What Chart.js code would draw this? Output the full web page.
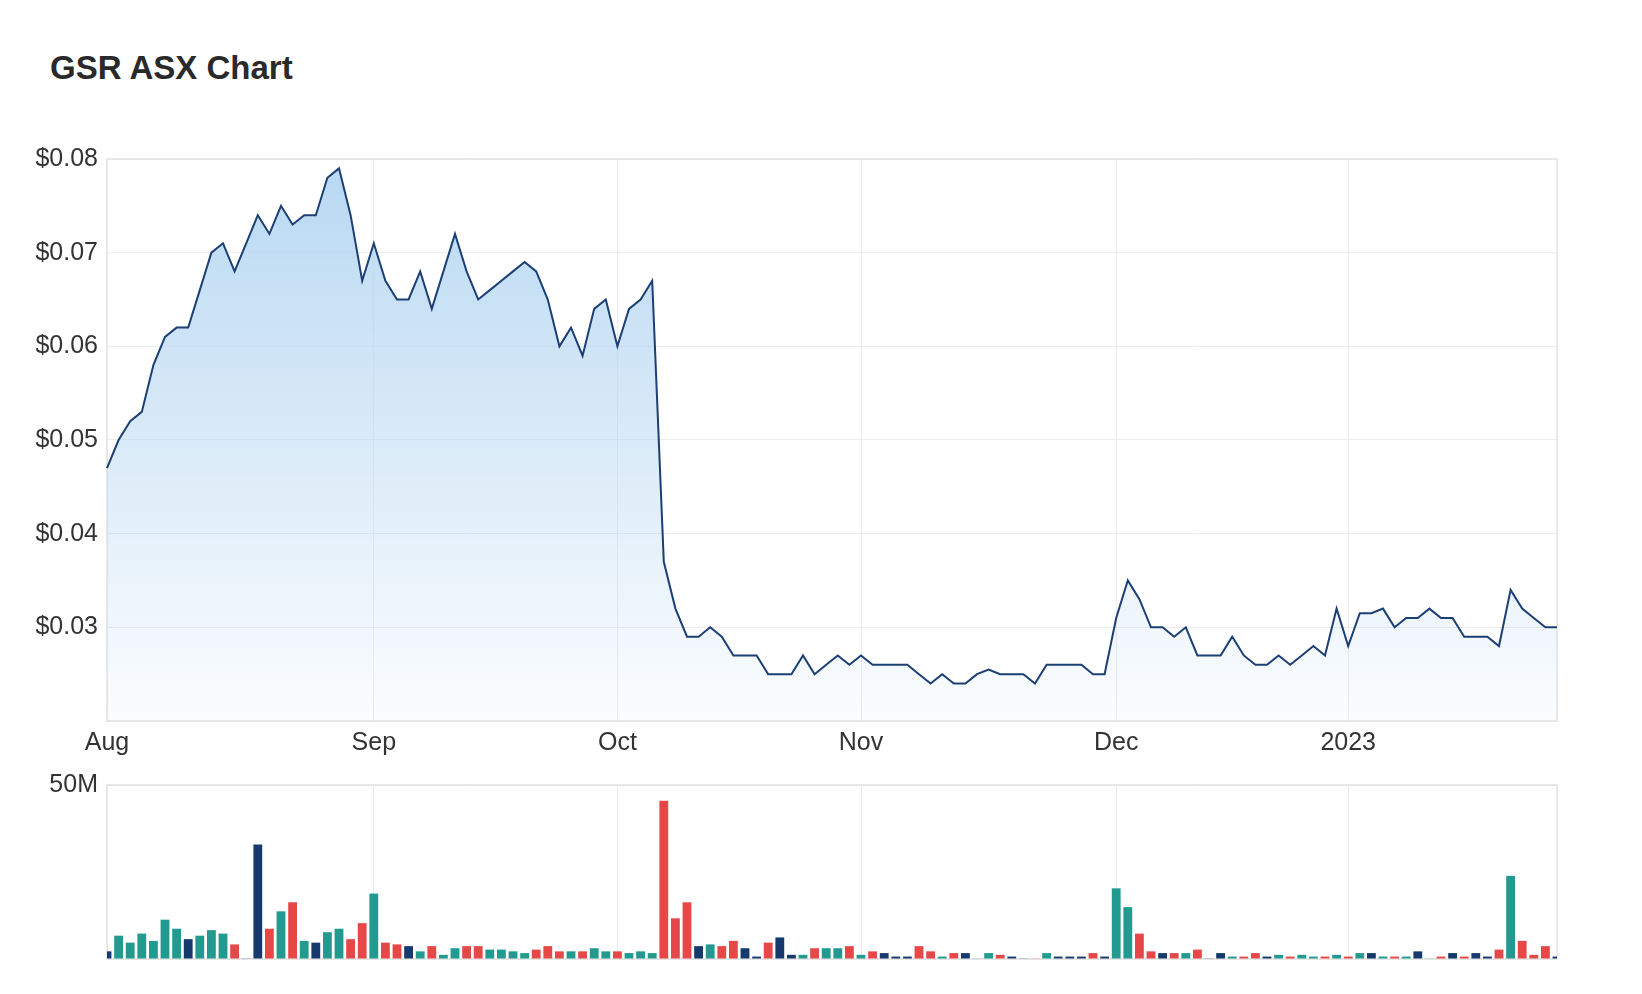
<!DOCTYPE html>
<html>
<head>
<meta charset="utf-8">
<script src="https://cdn.jsdelivr.net/npm/chart.js@4.4.1/dist/chart.umd.min.js"></script>
<style>
  html, body { margin:0; padding:0; background:#ffffff; width:1642px; height:994px; overflow:hidden; }
  #title { position:absolute; left:50px; top:51px; margin:0; font:bold 33px "Liberation Sans", Arial, sans-serif; line-height:1; color:#2a2a2a; }
  #pw { position:absolute; left:0; top:130px; width:1642px; height:631px; }
  #vw { position:absolute; left:0; top:761px; width:1642px; height:233px; }
</style>
</head>
<body>
<h1 id="title">GSR ASX Chart</h1>
<div id="pw"><canvas id="price"></canvas></div>
<div id="vw"><canvas id="vol"></canvas></div>
<script>
// ---------------- DATA ----------------
const tradingDays = [
  '2022-08-01','2022-08-02','2022-08-03','2022-08-04','2022-08-05','2022-08-08','2022-08-09','2022-08-10','2022-08-11','2022-08-12',
  '2022-08-15','2022-08-16','2022-08-17','2022-08-18','2022-08-19','2022-08-22','2022-08-23','2022-08-24','2022-08-25','2022-08-26',
  '2022-08-29','2022-08-30','2022-08-31',
  '2022-09-01','2022-09-02','2022-09-05','2022-09-06','2022-09-07','2022-09-08','2022-09-09','2022-09-12','2022-09-13','2022-09-14',
  '2022-09-15','2022-09-16','2022-09-19','2022-09-20','2022-09-21','2022-09-23','2022-09-26','2022-09-27','2022-09-28','2022-09-29',
  '2022-09-30',
  '2022-10-03','2022-10-04','2022-10-05','2022-10-06','2022-10-07','2022-10-10','2022-10-11','2022-10-12','2022-10-13','2022-10-14',
  '2022-10-17','2022-10-18','2022-10-19','2022-10-20','2022-10-21','2022-10-24','2022-10-25','2022-10-26','2022-10-27','2022-10-28',
  '2022-10-31',
  '2022-11-01','2022-11-02','2022-11-03','2022-11-04','2022-11-07','2022-11-08','2022-11-09','2022-11-10','2022-11-11','2022-11-14',
  '2022-11-15','2022-11-16','2022-11-17','2022-11-18','2022-11-21','2022-11-22','2022-11-23','2022-11-24','2022-11-25','2022-11-28',
  '2022-11-29','2022-11-30',
  '2022-12-01','2022-12-02','2022-12-05','2022-12-06','2022-12-07','2022-12-08','2022-12-09','2022-12-12','2022-12-13','2022-12-14',
  '2022-12-15','2022-12-16','2022-12-19','2022-12-20','2022-12-21','2022-12-22','2022-12-23','2022-12-28','2022-12-29','2022-12-30',
  '2023-01-03','2023-01-04','2023-01-05','2023-01-06','2023-01-09','2023-01-10','2023-01-11','2023-01-12','2023-01-13','2023-01-16',
  '2023-01-17','2023-01-18','2023-01-19','2023-01-20','2023-01-23','2023-01-24','2023-01-25','2023-01-27','2023-01-30'
];

const closePrice = [
  0.047, 0.050, 0.052, 0.053, 0.058, 0.061, 0.062, 0.062, 0.066, 0.070,
  0.071, 0.068, 0.071, 0.074, 0.072, 0.075, 0.073, 0.074, 0.074, 0.078,
  0.079, 0.074, 0.067, 0.071, 0.067, 0.065, 0.065, 0.068, 0.064, 0.068,
  0.072, 0.068, 0.065, 0.066, 0.067, 0.068, 0.069, 0.068, 0.065, 0.060,
  0.062, 0.059, 0.064, 0.065, 0.060, 0.064, 0.065, 0.067, 0.037, 0.032,
  0.029, 0.029, 0.030, 0.029, 0.027, 0.027, 0.027, 0.025, 0.025, 0.025,
  0.027, 0.025, 0.026, 0.027, 0.026, 0.027, 0.026, 0.026, 0.026, 0.026,
  0.025, 0.024, 0.025, 0.024, 0.024, 0.025, 0.0255, 0.025, 0.025, 0.025,
  0.024, 0.026, 0.026, 0.026, 0.026, 0.025, 0.025, 0.031, 0.035, 0.033,
  0.030, 0.030, 0.029, 0.030, 0.027, 0.027, 0.027, 0.029, 0.027, 0.026,
  0.026, 0.027, 0.026, 0.027, 0.028, 0.027, 0.032, 0.028, 0.0315, 0.0315,
  0.032, 0.030, 0.031, 0.031, 0.032, 0.031, 0.031, 0.029, 0.029, 0.029,
  0.028, 0.034, 0.032, 0.031, 0.030, 0.030
];

// volume in millions of shares
const volumeM = [
  2.2, 6.7, 4.7, 7.3, 5.2, 11.3, 8.7, 5.7, 6.7, 8.3,
  7.3, 4.2, 0.2, 32.9, 8.7, 13.7, 16.3, 5.2, 4.7, 7.7,
  8.7, 5.7, 10.3, 18.8, 4.7, 4.2, 3.7, 2.2, 3.7, 1.2,
  3.1, 3.7, 3.7, 2.7, 2.7, 2.2, 1.7, 2.7, 3.7, 2.2,
  2.2, 2.2, 3.1, 2.2, 2.2, 1.7, 2.2, 1.7, 45.5, 11.7,
  16.3, 3.7, 4.2, 3.7, 5.2, 3.1, 0.7, 4.7, 6.2, 1.2,
  1.2, 3.1, 3.1, 3.1, 3.7, 1.2, 2.2, 1.7, 0.7, 0.7,
  3.7, 2.2, 0.7, 1.7, 1.7, 0.2, 1.7, 1.2, 0.7, 0.2,
  0.2, 1.7, 0.7, 0.7, 0.7, 1.7, 0.7, 20.3, 14.9, 7.3,
  2.2, 1.7, 1.7, 1.7, 2.7, 0.2, 1.7, 0.7, 0.7, 1.7,
  0.7, 1.2, 0.7, 1.2, 0.7, 0.7, 1.2, 0.7, 1.7, 1.7,
  0.7, 0.7, 0.7, 2.2, 0.2, 0.7, 1.7, 0.7, 1.7, 0.7,
  2.7, 23.9, 5.2, 1.2, 3.7, 0.7
];

// u = up day, d = down day, n = unchanged
const volumeMove = (
  'nuuuuuunuu' + 'udnndudunu' + 'udduddnudu' + 'udduuuuddd' + 'uduuduuudd' +
  'dnuddnndnn' + 'uduududnnn' + 'ddudnuudnn' + 'dunnndnuud' + 'dndudnnudd' +
  'nuduududun' + 'udunudndnn' + 'dudddn'
).split('');

const monthNames = ['Jan','Feb','Mar','Apr','May','Jun','Jul','Aug','Sep','Oct','Nov','Dec'];
const priceTicks = [0.02, 0.03, 0.04, 0.05, 0.06, 0.07, 0.08];
const volumeMaxM = 50;

// ---------------- STYLE ----------------
const FONT = '"Liberation Sans", Arial, sans-serif';
const TICK_COLOR = '#333333';
const GRID = '#ececec';
const moveColor = { u: '#229a8f', d: '#e64848', n: '#173a6e' };

function isMonthStart(i) {
  if (typeof i !== 'number' || i < 0 || i >= tradingDays.length) return false;
  if (i === 0) return true;
  return tradingDays[i].slice(5, 7) !== tradingDays[i - 1].slice(5, 7);
}
function monthLabel(i) {
  if (!isMonthStart(i)) return '';
  const d = tradingDays[i];
  const m = parseInt(d.slice(5, 7), 10);
  return m === 1 ? d.slice(0, 4) : monthNames[m - 1];
}

const framePlugin = {
  id: 'frame',
  beforeDatasetsDraw(chart) {
    const { ctx, chartArea: a } = chart;
    ctx.save();
    ctx.strokeStyle = '#e2e2e2';
    ctx.lineWidth = 1.5;
    ctx.strokeRect(a.left, a.top, a.right - a.left, a.bottom - a.top);
    ctx.restore();
  }
};

Chart.defaults.font.family = FONT;
Chart.defaults.color = TICK_COLOR;

// ---------------- PRICE CHART ----------------
new Chart(document.getElementById('price'), {
  type: 'line',
  data: {
    labels: tradingDays,
    datasets: [{
      data: closePrice,
      borderColor: '#1c3f75',
      borderWidth: 2,
      pointRadius: 0,
      tension: 0,
      fill: 'start',
      backgroundColor: (c) => {
        const a = c.chart.chartArea;
        if (!a) return 'rgba(187,218,242,0.6)';
        const g = c.chart.ctx.createLinearGradient(0, a.top, 0, a.bottom);
        g.addColorStop(0, 'rgba(184,216,242,1)');
        g.addColorStop(1, 'rgba(184,216,242,0.05)');
        return g;
      }
    }]
  },
  options: {
    responsive: true,
    maintainAspectRatio: false,
    animation: false,
    layout: { padding: { top: 29, right: 85, left: 0, bottom: 0 } },
    plugins: { legend: { display: false }, tooltip: { enabled: false } },
    scales: {
      x: {
        type: 'category',
        offset: false,
        border: { display: false },
        grid: {
          offset: false,
          drawTicks: false,
          color: (c) => isMonthStart(c.index) ? GRID : 'rgba(0,0,0,0)',
          lineWidth: 1
        },
        ticks: {
          autoSkip: false,
          maxRotation: 0,
          minRotation: 0,
          padding: 7,
          font: { size: 25, family: FONT },
          color: TICK_COLOR,
          callback: (v, i) => monthLabel(i)
        },
        afterFit: (s) => { s.height = 40; }
      },
      y: {
        min: priceTicks[0],
        max: priceTicks[priceTicks.length - 1],
        border: { display: false },
        grid: { drawTicks: false, color: GRID, lineWidth: 1 },
        afterBuildTicks: (s) => { s.ticks = priceTicks.map(v => ({ value: v })); },
        ticks: {
          padding: 9,
          font: { size: 25, family: FONT },
          color: TICK_COLOR,
          callback: (v) => (Math.abs(v - priceTicks[0]) < 1e-9 ? '' : '$' + Number(v).toFixed(2))
        },
        afterFit: (s) => { s.width = 107; }
      }
    }
  },
  plugins: [framePlugin]
});

// ---------------- VOLUME CHART ----------------
new Chart(document.getElementById('vol'), {
  type: 'bar',
  data: {
    labels: tradingDays,
    datasets: [{
      data: volumeM,
      backgroundColor: volumeMove.map(m => moveColor[m]),
      borderWidth: 0,
      barPercentage: 1,
      categoryPercentage: 0.76
    }]
  },
  options: {
    responsive: true,
    maintainAspectRatio: false,
    animation: false,
    layout: { padding: { top: 24, right: 85, left: 0, bottom: 0 } },
    plugins: { legend: { display: false }, tooltip: { enabled: false } },
    scales: {
      x: {
        type: 'category',
        offset: false,
        border: { display: false },
        grid: {
          offset: false,
          drawTicks: false,
          color: (c) => isMonthStart(c.index) ? GRID : 'rgba(0,0,0,0)',
          lineWidth: 1
        },
        ticks: { display: false, autoSkip: false },
        afterFit: (s) => { s.height = 35; }
      },
      y: {
        min: 0,
        max: volumeMaxM,
        border: { display: false },
        grid: { drawTicks: false, color: GRID, lineWidth: 1 },
        afterBuildTicks: (s) => { s.ticks = [{ value: 0 }, { value: volumeMaxM }]; },
        ticks: {
          padding: 9,
          font: { size: 25, family: FONT },
          color: TICK_COLOR,
          callback: (v) => (v === volumeMaxM ? volumeMaxM + 'M' : '')
        },
        afterFit: (s) => { s.width = 107; }
      }
    }
  },
  plugins: [framePlugin]
});
</script>
</body>
</html>
